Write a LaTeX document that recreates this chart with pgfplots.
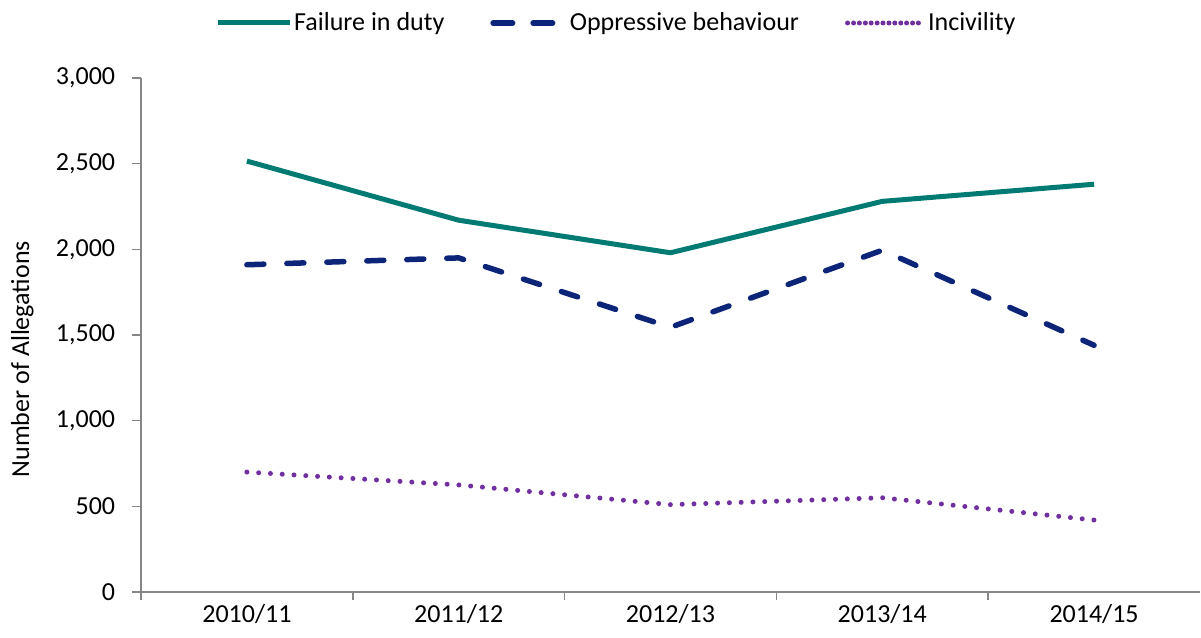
\documentclass[border=0pt]{standalone}
\usepackage{pgfplots}
\pgfplotsset{compat=1.18}
\usepackage{fontspec}
\setmainfont{Carlito}
\definecolor{cteal}{RGB}{0,123,115}
\definecolor{cnavy}{RGB}{13,37,120}
\definecolor{cpurple}{RGB}{112,48,160}
\definecolor{cgray}{RGB}{134,134,134}
\pgfplotsset{
  oppleg/.style={legend image code/.code={\draw[##1] (2.5pt,0pt) -- (62pt,0pt); \path (0pt,0pt) -- (72pt,0pt);}},
  incleg/.style={legend image code/.code={\draw[##1] (6pt,0pt) -- (66pt,0pt); \path (0pt,0pt) -- (76pt,0pt);}},
}
\begin{document}
\fontsize{26pt}{31pt}\selectfont
\begin{tikzpicture}
\path[use as bounding box] (-141pt,-45pt) rectangle (1060pt,592pt);
\begin{axis}[
  scale only axis,
  width=1059pt, height=514pt,
  xmin=-0.5, xmax=4.5,
  ymin=0, ymax=3000,
  axis x line=bottom, axis y line=left,
  axis line style={cgray, line width=1.5pt, -},
  xtick={0,1,2,3,4},
  xticklabels={2010/11,2011/12,2012/13,2013/14,2014/15},
  minor xtick={-0.5,0.5,1.5,2.5,3.5},
  ytick={0,500,...,3000},
  tick align=outside,
  major tick length=0pt,
  minor tick length=8pt,
  every minor tick/.style={cgray, line width=1.5pt},
  extra y ticks={0,500,...,3000},
  extra y tick labels={},
  extra y tick style={major tick length=9pt, every major tick/.style={cgray, line width=1.5pt}},
  yticklabel style={font=\fontsize{26pt}{31pt}\selectfont, xshift=-17pt},
  xticklabel style={font=\fontsize{26pt}{31pt}\selectfont, yshift=-4pt},
  /pgf/number format/assume math mode=true,
  /pgf/number format/1000 sep={,},
  scaled y ticks=false,
  ylabel={Number of Allegations},
  ylabel style={font=\fontsize{26pt}{31pt}\selectfont, at={(axis description cs:-0.112,0.453)}, anchor=center, rotate=0},
  legend columns=3,
  legend style={draw=none, fill=none, font=\fontsize{26pt}{31pt}\selectfont,
     at={(0.0699,1.107)}, anchor=west,
     /tikz/every even column/.append style={column sep=44pt},
     inner sep=0pt},
  legend cell align=left,
  legend image code/.code={\draw[#1] (0pt,0pt) -- (72pt,0pt);},
  clip=false,
]
\addplot[cteal, line width=5pt, line join=round] coordinates {
  (0,2515) (1,2170) (2,1980) (3,2280) (4,2380)};
\addlegendentry{Failure in duty}
\addplot[cnavy, line width=5.5pt, line cap=round, line join=round, dash pattern=on 17pt off 23pt, oppleg] coordinates {
  (0,1910) (1,1950) (2,1545) (3,1995) (4,1440)};
\addlegendentry{Oppressive behaviour}
\addplot[cpurple, line width=5pt, line cap=round, dash pattern=on 0pt off 11.8pt, incleg] coordinates {
  (0,700) (1,625) (2,510) (3,550) (4,420)};
\addlegendentry{Incivility}
\end{axis}
\end{tikzpicture}
\end{document}
